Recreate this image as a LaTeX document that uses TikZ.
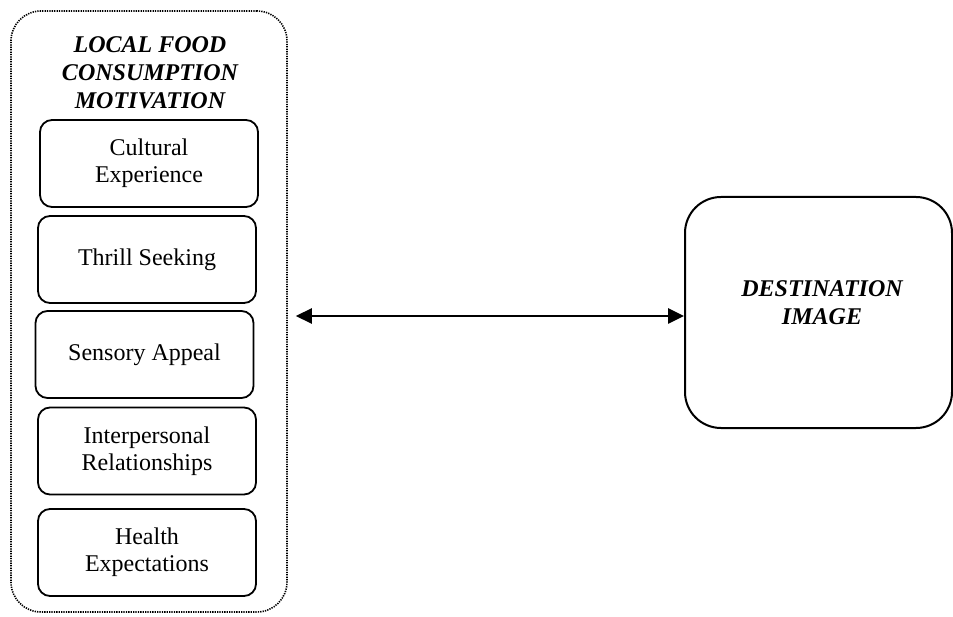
\documentclass[tikz,border=0pt]{standalone}
\usepackage{fontspec}
\setmainfont{Liberation Serif}
\usetikzlibrary{arrows.meta}
\begin{document}
\begin{tikzpicture}[x=1pt,y=-1pt,
  factor/.style={draw, line width=1.8pt, rounded corners=12pt, minimum width=218pt, minimum height=87pt, inner sep=0pt, align=center, font=\fontsize{24}{27}\selectfont},
  group/.style={draw, line width=1.6pt, dash pattern=on 1.3pt off 1.1pt, rounded corners=30pt, minimum width=276pt, minimum height=601pt, inner sep=0pt},
  titletxt/.style={align=center, font=\fontsize{24}{28}\selectfont\bfseries\itshape},
  outcome/.style={draw, line width=2pt, rounded corners=36pt, minimum width=267pt, minimum height=231pt, inner sep=0pt},
  arr/.style={line width=2.6pt, {Triangle[length=16pt,width=15pt]}-{Triangle[length=16pt,width=15pt]}}]
\useasboundingbox (0,0) rectangle (953,617);
\node[group] (outer) at (149,311.5) {};
\node[titletxt] (title) at (150,73) {LOCAL FOOD\\CONSUMPTION\\MOTIVATION};
\node[factor] (f1) at (149,163.5) {Cultural\\Experience};
\node[factor] (f2) at (147,259.5) {Thrill Seeking};
\node[factor] (f3) at (144.5,354.5) {Sensory Appeal};
\node[factor] (f4) at (147,451) {Interpersonal\\Relationships};
\node[factor] (f5) at (147,552.5) {Health\\Expectations};
\node[outcome] (dest) at (818.5,312.5) {};
\node[titletxt] (desttxt) at (822,303) {DESTINATION\\IMAGE};
\coordinate (aL) at ([xshift=8pt,yshift=-4.5pt]outer.east);
\draw[arr] (aL) -- (aL -| dest.west);
\end{tikzpicture}
\end{document}
